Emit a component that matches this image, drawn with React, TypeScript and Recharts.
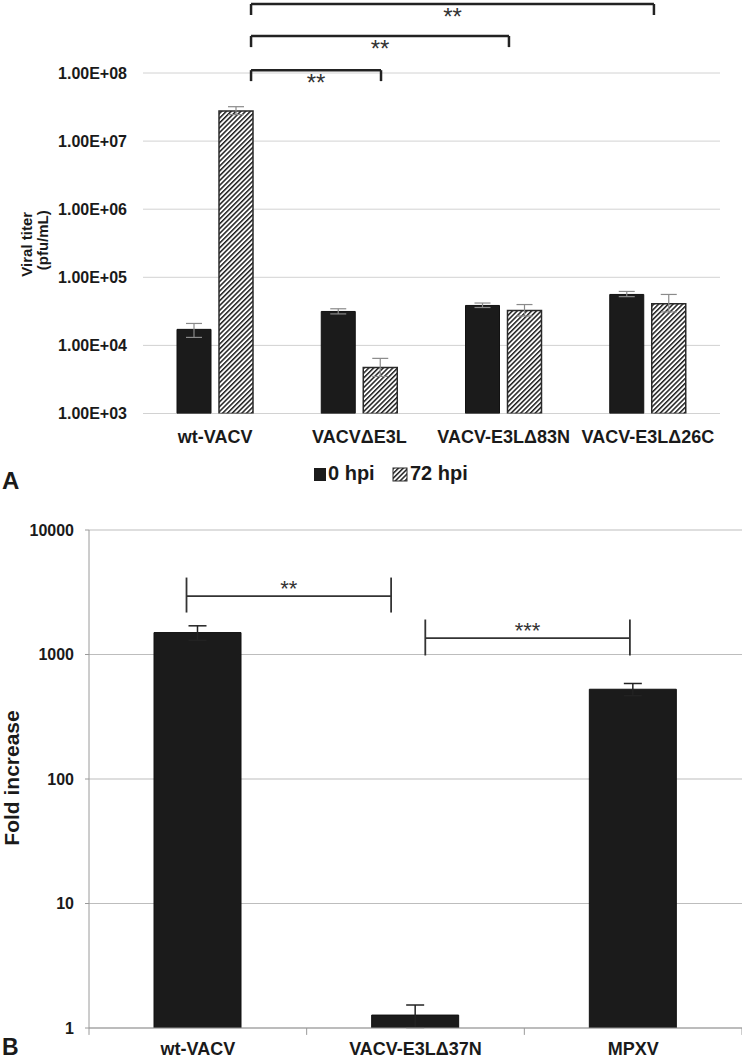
import React from 'react';
import { BarChart, Bar, XAxis, YAxis, CartesianGrid, ErrorBar, ReferenceLine } from 'recharts';

const FONT = '"Liberation Sans", Arial, Helvetica, sans-serif';

// ---------- Panel A data ----------
const categoriesA = ['wt-VACV', 'VACVΔE3L', 'VACV-E3LΔ83N', 'VACV-E3LΔ26C'];
const seriesA = ['0 hpi', '72 hpi'];
const titer0hpi = [17200, 31500, 38600, 56000];
const titer0hpiLow = [13100, 29000, 36000, 52000];
const titer0hpiHigh = [21000, 34500, 41900, 62000];
const titer72hpi = [27600000, 4750, 32500, 41000];
const titer72hpiLow = [24500000, 3500, 27000, 31000];
const titer72hpiHigh = [32000000, 6450, 39800, 56000];
const ticksA = [1e3, 1e4, 1e5, 1e6, 1e7, 1e8];
// significance brackets (x in category-band units, y in pfu/mL)
const bracketFromA = [0.749, 0.749, 0.749];
const bracketToA = [3.542, 2.537, 1.65];
const bracketTopA = [1.03e9, 3.5e8, 1.1e8];
const bracketFootA = [7.1e8, 2.4e8, 7.6e7];
const bracketLabelA = ['**', '**', '**'];

// ---------- Panel B data ----------
const categoriesB = ['wt-VACV', 'VACV-E3LΔ37N', 'MPXV'];
const foldIncrease = [1500, 1.27, 526];
const foldIncreaseHigh = [1700, 1.53, 585];
const ticksB = [1, 10, 100, 1000, 10000];
const boundaryTicksB = [0, 1, 2, 3];
const bracketFromB = [0.448, 1.545];
const bracketToB = [1.388, 2.485];
const bracketYB = [2940, 1352];
const bracketLowB = [2173, 982];
const bracketHighB = [4150, 1910];
const bracketLabelB = ['**', '***'];

const dataA = categoriesA.map((name, i) => ({
  name,
  pos: i + 0.5,
  h0: titer0hpi[i],
  h72: titer72hpi[i],
  e0: [titer0hpi[i] - titer0hpiLow[i], titer0hpiHigh[i] - titer0hpi[i]],
  e72: [titer72hpi[i] - titer72hpiLow[i], titer72hpiHigh[i] - titer72hpi[i]],
}));

const dataB = categoriesB.map((name, i) => ({
  name,
  pos: i + 0.5,
  fold: foldIncrease[i],
  err: [foldIncreaseHigh[i] - foldIncrease[i], foldIncreaseHigh[i] - foldIncrease[i]],
}));

function sciLabel(v: number) {
  const e = Math.round(Math.log10(v));
  const m = v / Math.pow(10, e);
  return `${m.toFixed(2)}E+${String(e).padStart(2, '0')}`;
}

const YTitleA = (props: any) => {
  const vb = props.viewBox || { x: 0, y: 73, width: 143, height: 340 };
  const cy = vb.y + vb.height / 2;
  return (
    <g>
      <text x={27} y={cy + 1} dy="0.35em" transform={`rotate(-90, 27, ${cy + 1})`} textAnchor="middle" fontSize={15} fontWeight={700} fill="#1a1a1a">
        Viral titer
      </text>
      <text x={43} y={cy - 3} dy="0.35em" transform={`rotate(-90, 43, ${cy - 3})`} textAnchor="middle" fontSize={15} fontWeight={700} fill="#1a1a1a">
        (pfu/mL)
      </text>
    </g>
  );
};

const YTitleB = (props: any) => {
  const vb = props.viewBox || { x: 0, y: 40, width: 89, height: 498 };
  const cy = vb.y + vb.height / 2 - 1;
  return (
    <text x={12} y={cy} dy="0.35em" transform={`rotate(-90, 12, ${cy})`} textAnchor="middle" fontSize={21} fontWeight={700} fill="#1a1a1a">
      Fold increase
    </text>
  );
};

export default function App() {
  return (
    <div style={{ position: 'absolute', left: 0, top: 0, width: 742, height: 1060, background: '#fff', fontFamily: FONT, overflow: 'hidden' }}>
      {/* Panel A */}
      <div style={{ position: 'absolute', left: 0, top: 0 }}>
        <BarChart width={742} height={500} data={dataA} margin={{ top: 73, right: 22, bottom: 36.5, left: 0 }} barGap={8} barSize={34}>
          <defs>
            <pattern id="hatchA" patternUnits="userSpaceOnUse" width={3.4} height={3.4} patternTransform="rotate(45)">
              <rect x={0} y={0} width={3.4} height={3.4} fill="#ffffff" />
              <rect x={0} y={0} width={1.5} height={3.4} fill="#1e1e1e" />
            </pattern>
          </defs>
          <CartesianGrid vertical={false} stroke="#d2d2d2" />
          <XAxis
            dataKey="name"
            height={50}
            axisLine={false}
            tickLine={false}
            tickMargin={10.5}
            interval={0}
            tick={{ fontSize: 18, fontWeight: 700, fill: '#1a1a1a' }}
          />
          <XAxis xAxisId="num" dataKey="pos" type="number" domain={[0, 4]} allowDataOverflow hide />
          <YAxis
            scale="log"
            domain={[1e3, 1e8]}
            ticks={ticksA}
            allowDataOverflow
            axisLine={false}
            tickLine={false}
            width={143}
            tickMargin={10}
            tickFormatter={sciLabel}
            tick={{ fontSize: 16, fontWeight: 700, fill: '#1a1a1a' }}
            label={YTitleA}
          />
          <Bar dataKey="h0" name={seriesA[0]} fill="#1b1b1b" stroke="#111" strokeWidth={1} isAnimationActive={false}>
            <ErrorBar dataKey="e0" width={8} stroke="#8a8a8a" strokeWidth={1.2} />
          </Bar>
          <Bar dataKey="h72" name={seriesA[1]} fill="url(#hatchA)" stroke="#2a2a2a" strokeWidth={1.5} isAnimationActive={false}>
            <ErrorBar dataKey="e72" width={8} stroke="#8a8a8a" strokeWidth={1.2} />
          </Bar>
          {bracketFromA.map((from, i) => (
            <ReferenceLine
              key={`ah${i}`}
              xAxisId="num"
              ifOverflow="visible"
              segment={[{ x: from, y: bracketTopA[i] }, { x: bracketToA[i], y: bracketTopA[i] }]}
              stroke="#222"
              strokeWidth={2.5}
              label={{ value: bracketLabelA[i], position: 'bottom', offset: 4, fill: '#333', fontSize: 24 }}
            />
          ))}
          {bracketFromA.map((from, i) => (
            <ReferenceLine
              key={`al${i}`}
              xAxisId="num"
              ifOverflow="visible"
              segment={[{ x: from, y: bracketTopA[i] }, { x: from, y: bracketFootA[i] }]}
              stroke="#222"
              strokeWidth={2.5}
            />
          ))}
          {bracketToA.map((to, i) => (
            <ReferenceLine
              key={`ar${i}`}
              xAxisId="num"
              ifOverflow="visible"
              segment={[{ x: to, y: bracketTopA[i] }, { x: to, y: bracketFootA[i] }]}
              stroke="#222"
              strokeWidth={2.5}
            />
          ))}
        </BarChart>
      </div>

      {/* Panel B */}
      <div style={{ position: 'absolute', left: 0, top: 490 }}>
        <BarChart width={742} height={570} data={dataB} margin={{ top: 40, right: 0, bottom: 0, left: 0 }} barSize={87}>
          <CartesianGrid vertical={false} stroke="#bdbdbd" />
          <XAxis
            dataKey="name"
            height={32}
            axisLine={{ stroke: '#9a9a9a' }}
            tickLine={false}
            tickMargin={8}
            interval={0}
            tick={{ fontSize: 18, fontWeight: 700, fill: '#1a1a1a' }}
          />
          <XAxis xAxisId="num" dataKey="pos" type="number" domain={[0, 3]} allowDataOverflow hide />
          <YAxis
            scale="log"
            domain={[1, 10000]}
            ticks={ticksB}
            allowDataOverflow
            width={89}
            axisLine={{ stroke: '#9a9a9a' }}
            tickLine={{ stroke: '#9a9a9a' }}
            tickSize={4}
            tickMargin={11}
            tickFormatter={(v: number) => String(v)}
            tick={{ fontSize: 16, fontWeight: 700, fill: '#1a1a1a' }}
            label={YTitleB}
          />
          <Bar dataKey="fold" fill="#1b1b1b" stroke="#111" isAnimationActive={false}>
            <ErrorBar dataKey="err" width={9} stroke="#222" strokeWidth={1.5} />
          </Bar>
          {boundaryTicksB.map((t) => (
            <ReferenceLine
              key={`bt${t}`}
              xAxisId="num"
              ifOverflow="visible"
              segment={[{ x: t, y: 1 }, { x: t, y: 0.88 }]}
              stroke="#9a9a9a"
              strokeWidth={1}
            />
          ))}
          {bracketFromB.map((from, i) => (
            <ReferenceLine
              key={`bh${i}`}
              xAxisId="num"
              ifOverflow="visible"
              segment={[{ x: from, y: bracketYB[i] }, { x: bracketToB[i], y: bracketYB[i] }]}
              stroke="#333"
              strokeWidth={1.8}
              label={{ value: bracketLabelB[i], position: 'top', offset: 0, fill: '#333', fontSize: 22 }}
            />
          ))}
          {bracketFromB.map((from, i) => (
            <ReferenceLine
              key={`bl${i}`}
              xAxisId="num"
              ifOverflow="visible"
              segment={[{ x: from, y: bracketLowB[i] }, { x: from, y: bracketHighB[i] }]}
              stroke="#333"
              strokeWidth={1.8}
            />
          ))}
          {bracketToB.map((to, i) => (
            <ReferenceLine
              key={`br${i}`}
              xAxisId="num"
              ifOverflow="visible"
              segment={[{ x: to, y: bracketLowB[i] }, { x: to, y: bracketHighB[i] }]}
              stroke="#333"
              strokeWidth={1.8}
            />
          ))}
        </BarChart>
      </div>

      {/* Legend for panel A and panel letters */}
      <svg width={742} height={1060} style={{ position: 'absolute', left: 0, top: 0, pointerEvents: 'none' }}>
        <defs>
          <pattern id="hatchLegend" patternUnits="userSpaceOnUse" width={3.4} height={3.4} patternTransform="rotate(45)">
            <rect x={0} y={0} width={3.4} height={3.4} fill="#ffffff" />
            <rect x={0} y={0} width={1.5} height={3.4} fill="#1e1e1e" />
          </pattern>
        </defs>
        <rect x={314} y={468} width={12} height={13} fill="#1b1b1b" />
        <text x={328} y={480} fontSize={20} fontWeight={700} fill="#1a1a1a">{seriesA[0]}</text>
        <rect x={393} y={468} width={14} height={13} fill="url(#hatchLegend)" stroke="#2a2a2a" strokeWidth={1} />
        <text x={410} y={480} fontSize={20} fontWeight={700} fill="#1a1a1a">{seriesA[1]}</text>
        <text x={2} y={489} fontSize={24} fontWeight={700} fill="#1a1a1a">A</text>
        <text x={2} y={1055} fontSize={23} fontWeight={700} fill="#1a1a1a">B</text>
      </svg>
    </div>
  );
}
